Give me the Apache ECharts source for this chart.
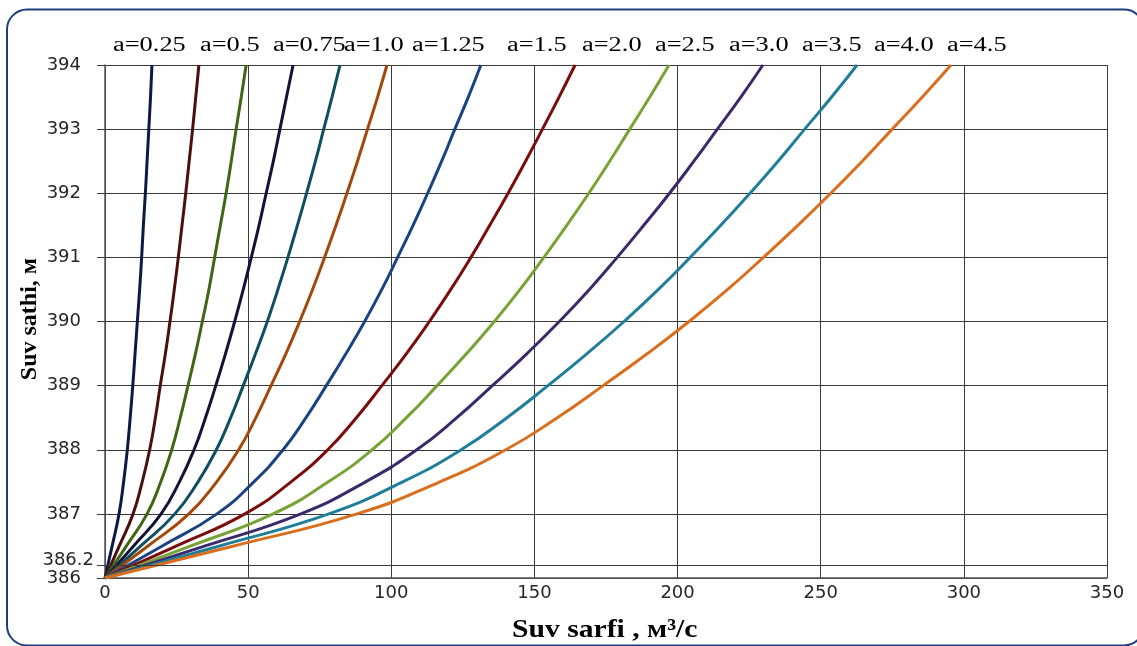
<!DOCTYPE html>
<html>
<head>
<meta charset="utf-8">
<script src="https://cdn.jsdelivr.net/npm/echarts@6/dist/echarts.min.js"></script>
<style>
    html, body { margin: 0; padding: 0; background: #fff; }
    #chart { width: 1137px; height: 646px; }
</style>
</head>
<body>
<div id="chart"></div>
<script>
// water level, m (shared by every curve)
const levels = [386, 386.5, 387, 387.5, 388, 388.5, 389, 389.5, 390, 390.5, 391, 391.5, 392, 392.5, 393, 393.5, 394];

// discharge, m3/s, one array per coefficient a
const q025 = [0, 2.5, 4.9, 6.5, 7.8, 8.8, 9.7, 10.5, 11.3, 12.1, 12.8, 13.4, 14.1, 14.7, 15.3, 15.9, 16.4];
const q05  = [0, 5, 9.8, 13, 15.6, 17.6, 19.3, 21.1, 22.7, 24.2, 25.6, 26.9, 28.2, 29.4, 30.6, 31.7, 32.8];
const q075 = [0, 7.5, 14.7, 19.5, 23.3, 26.3, 29, 31.6, 34, 36.3, 38.3, 40.3, 42.3, 44.1, 45.8, 47.6, 49.3];
const q10  = [0, 10, 19.6, 26, 31.1, 35.1, 38.7, 42.1, 45.3, 48.3, 51.1, 53.8, 56.3, 58.8, 61.1, 63.4, 65.7];
const q125 = [0, 12.5, 24.4, 32.5, 38.9, 43.9, 48.3, 52.6, 56.7, 60.4, 63.9, 67.2, 70.4, 73.5, 76.4, 79.3, 82.1];
const q15  = [0, 15, 29.3, 39, 46.7, 52.7, 58, 63.2, 68, 72.5, 76.7, 80.7, 84.5, 88.2, 91.7, 95.2, 98.5];
const q20  = [0, 20, 39.1, 52, 62.2, 70.2, 77.3, 84.2, 90.7, 96.7, 102.2, 107.6, 112.7, 117.6, 122.2, 126.9, 131.3];
const q25  = [0, 25, 48.9, 65, 77.8, 87.8, 96.7, 105.3, 113.3, 120.8, 127.8, 134.4, 140.8, 146.9, 152.8, 158.6, 164.2];
const q30  = [0, 30, 58.7, 78, 93.3, 105.3, 116, 126.3, 136, 145, 153.3, 161.3, 169, 176.3, 183.3, 190.3, 197];
const q35  = [0, 35, 68.4, 91, 108.9, 122.9, 135.3, 147.4, 158.7, 169.2, 178.9, 188.2, 197.2, 205.7, 213.9, 222.1, 229.8];
const q40  = [0, 40, 78.2, 104, 124.4, 140.4, 154.7, 168.4, 181.3, 193.3, 204.4, 215.1, 225.3, 235.1, 244.4, 253.8, 262.7];
const q45  = [0, 45, 88, 117, 140, 158, 174, 189.5, 204, 217.5, 230, 242, 253.5, 264.5, 275, 285.5, 295.5];

const seriesNames = ['a=0.25', 'a=0.5', 'a=0.75', 'a=1.0', 'a=1.25', 'a=1.5', 'a=2.0', 'a=2.5', 'a=3.0', 'a=3.5', 'a=4.0', 'a=4.5'];
const seriesValues = [q025, q05, q075, q10, q125, q15, q20, q25, q30, q35, q40, q45];

const yTickLabels = [386, 386.2, 387, 388, 389, 390, 391, 392, 393, 394];
const extraGridLevel = 386.2;

// styles
const colors = ['#0c1a45', '#4a1010', '#3f6614', '#15123a', '#0f4d61', '#a3480c',
                '#1b4282', '#7b0c0c', '#77a235', '#3b2a6b', '#1f7e9a', '#db6e1c'];
const captionLeft = [113, 200, 273, 344, 412, 507, 582, 655, 729, 802, 874, 947];   // top captions
const gridColor = '#3a3a3a';
const labelFont = 'DejaVu Sans';
const serif = '"Liberation Serif", "Times New Roman", serif';

const chart = echarts.init(document.getElementById('chart'));

const series = seriesNames.map((name, i) => ({
    name: name,
    type: 'line',
    smooth: true,
    showSymbol: false,
    lineStyle: { color: colors[i], width: 3 },
    itemStyle: { color: colors[i] },
    data: levels.map((h, k) => [seriesValues[i][k], h])
}));

// extra grid line at 386.2, kept under the curves
series.unshift({
    type: 'line',
    z: 1,
    data: [],
    markLine: {
        silent: true,
        symbol: ['none', 'none'],
        label: { show: false },
        lineStyle: { color: gridColor, width: 1, type: 'solid' },
        data: [{ yAxis: extraGridLevel }]
    }
});

const captions = seriesNames.map((name, i) => ({
    type: 'text',
    x: captionLeft[i],
    y: 46,
    scaleX: 1.32,
    silent: true,
    style: { text: name, font: '20px ' + serif, fill: '#000', align: 'left', verticalAlign: 'middle' }
}));

const option = {
    backgroundColor: '#fff',
    animation: false,
    grid: { left: 105, right: 30, top: 65, bottom: 68 },
    xAxis: {
        type: 'value',
        min: 0,
        max: 350,
        interval: 50,
        axisLine: { lineStyle: { color: '#555', width: 1.5 } },
        axisTick: { show: false },
        axisLabel: { color: '#262626', fontFamily: labelFont, fontSize: 18, margin: 6 },
        splitLine: { lineStyle: { color: gridColor, width: 1 } }
    },
    yAxis: {
        type: 'value',
        min: 386,
        max: 394,
        interval: 1,
        axisLine: { show: true, lineStyle: { color: '#555', width: 1.5 } },
        axisTick: { show: true, length: 8, customValues: yTickLabels, lineStyle: { color: gridColor } },
        axisLabel: {
            customValues: yTickLabels,
            margin: 11,
            color: '#262626',
            fontFamily: labelFont,
            fontSize: 18,
            formatter: v => (v === extraGridLevel ? '{up|' + v + '}' : '{n|' + v + '}'),
            rich: {
                n: { fontFamily: labelFont, fontSize: 18, color: '#262626', padding: [0, 13, 0, 0] },
                up: { fontFamily: labelFont, fontSize: 18, color: '#262626', padding: [0, 0, 10, 0] }
            }
        },
        splitLine: { lineStyle: { color: gridColor, width: 1 } }
    },
    graphic: [
        {
            type: 'rect',
            silent: true,
            shape: { x: 7, y: 9.5, width: 1137, height: 636, r: 20 },
            style: { fill: 'none', stroke: '#1c3f7c', lineWidth: 2 }
        },
        ...captions,
        {
            type: 'text',
            x: 512,
            y: 630,
            scaleX: 1.14,
            silent: true,
            style: { text: 'Suv sarfi , м³/с', font: 'bold 26px ' + serif, fill: '#000', align: 'left', verticalAlign: 'middle' }
        },
        {
            type: 'text',
            x: 30,
            y: 319,
            rotation: Math.PI / 2,
            silent: true,
            style: { text: 'Suv sathi, м', font: 'bold 24px ' + serif, fill: '#000', align: 'center', verticalAlign: 'middle' }
        }
    ],
    series: series
};

chart.setOption(option);
</script>
</body>
</html>
